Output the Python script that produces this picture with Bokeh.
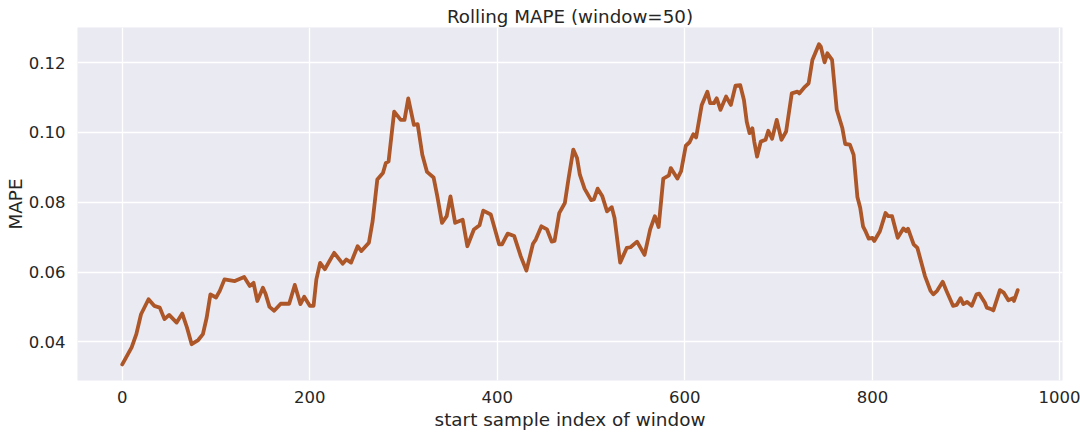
from bokeh.plotting import figure
from bokeh.models import Range1d, FixedTicker, NumeralTickFormatter, ColumnDataSource
from bokeh.embed import file_html
from bokeh.resources import INLINE

# start sample index of window
window_start = [
    0, 10, 15, 20, 28, 34, 40, 45, 50, 58, 64, 69, 74, 81, 86, 90, 94, 100, 104, 109,
    120, 130, 136, 140, 144, 150, 153, 157, 162, 169, 178, 184, 190, 194, 200, 204, 207, 211, 216, 226,
    235, 239, 244, 251, 255, 263, 267, 272, 278, 281, 284, 290, 297, 301, 305, 311, 315, 320, 325, 332,
    336, 341, 346, 350, 355, 363, 368, 375, 381, 385, 393, 402, 405, 411, 418, 425, 431, 438, 441, 447,
    453, 458, 461, 466, 472, 476, 481, 485, 488, 493, 500, 503, 507, 512, 517, 522, 525, 531, 538, 542,
    549, 557, 563, 568, 572, 577, 583, 585, 592, 596, 601, 605, 609, 612, 618, 624, 627, 631, 634, 638,
    644, 649, 654, 659, 663, 666, 669, 672, 674, 677, 681, 686, 689, 693, 698, 703, 708, 714, 720, 722,
    728, 732, 736, 739, 743, 745, 749, 752, 757, 762, 768, 771, 776, 780, 784, 787, 790, 793, 796, 800,
    802, 808, 814, 817, 821, 827, 833, 836, 838, 844, 848, 856, 862, 865, 869, 875, 879, 886, 890, 894,
    897, 901, 906, 911, 914, 920, 922, 927, 929, 936, 940, 945, 950, 951, 955,
]
# rolling MAPE values
rolling_mape = [
    0.0335, 0.0384, 0.0422, 0.0479, 0.0522, 0.0503, 0.0498, 0.0465, 0.0477, 0.0455,
    0.0481, 0.0441, 0.0393, 0.0405, 0.0422, 0.0469, 0.0536, 0.0527, 0.0546, 0.0579,
    0.0574, 0.0586, 0.0560, 0.0569, 0.0517, 0.0555, 0.0536, 0.0500, 0.0489, 0.0509,
    0.0509, 0.0563, 0.0508, 0.0529, 0.0503, 0.0503, 0.0579, 0.0626, 0.0608, 0.0655,
    0.0624, 0.0636, 0.0627, 0.0674, 0.0660, 0.0684, 0.0746, 0.0865, 0.0884, 0.0912,
    0.0917, 0.1060, 0.1036, 0.1036, 0.1098, 0.1022, 0.1024, 0.0936, 0.0887, 0.0871,
    0.0817, 0.0741, 0.0760, 0.0817, 0.0741, 0.0750, 0.0674, 0.0722, 0.0734, 0.0776,
    0.0765, 0.0679, 0.0679, 0.0710, 0.0703, 0.0645, 0.0604, 0.0681, 0.0693, 0.0731,
    0.0722, 0.0687, 0.0689, 0.0769, 0.0798, 0.0869, 0.0951, 0.0927, 0.0879, 0.0839,
    0.0806, 0.0808, 0.0839, 0.0817, 0.0774, 0.0786, 0.0755, 0.0627, 0.0669, 0.0671,
    0.0687, 0.0649, 0.0722, 0.0760, 0.0729, 0.0868, 0.0877, 0.0898, 0.0868, 0.0889,
    0.0962, 0.0972, 0.0995, 0.0986, 0.1079, 0.1117, 0.1084, 0.1084, 0.1098, 0.1065,
    0.1103, 0.1079, 0.1134, 0.1136, 0.1093, 0.1031, 0.0998, 0.1012, 0.0974, 0.0931,
    0.0974, 0.0979, 0.1005, 0.0982, 0.1036, 0.0979, 0.1003, 0.1112, 0.1117, 0.1112,
    0.1131, 0.1141, 0.1208, 0.1227, 0.1253, 0.1246, 0.1201, 0.1227, 0.1208, 0.1065,
    0.1012, 0.0967, 0.0965, 0.0936, 0.0815, 0.0784, 0.0731, 0.0715, 0.0696, 0.0698,
    0.0689, 0.0717, 0.0769, 0.0760, 0.0760, 0.0698, 0.0725, 0.0717, 0.0724, 0.0679,
    0.0669, 0.0589, 0.0546, 0.0536, 0.0546, 0.0572, 0.0546, 0.0503, 0.0506, 0.0525,
    0.0508, 0.0514, 0.0503, 0.0536, 0.0538, 0.0512, 0.0498, 0.0493, 0.0490, 0.0548,
    0.0541, 0.0519, 0.0525, 0.0517, 0.0548,
]
x_ticks = [0, 200, 400, 600, 800, 1000]
y_ticks = [0.04, 0.06, 0.08, 0.10, 0.12]

TEXT = "#262626"
FONT = "DejaVu Sans"

p = figure(
    width=1080, height=437,
    output_backend="svg", toolbar_location=None,
    x_range=Range1d(-47.75, 1002.75), y_range=Range1d(0.0289, 0.1301),
    min_border_left=77, min_border_right=18, min_border_top=27, min_border_bottom=57,
    title="Rolling MAPE (window=50)",
)
p.title.align = "center"
p.title.text_font = FONT
p.title.text_font_size = "18.3px"
p.title.text_font_style = "normal"
p.title.text_color = TEXT
p.title.offset = 0
p.title.standoff = 2

p.background_fill_color = "#EAEAF2"
p.border_fill_color = "white"
p.outline_line_color = None

for g in (p.xgrid, p.ygrid):
    g.grid_line_color = "white"
    g.grid_line_width = 1.3

p.xaxis.ticker = FixedTicker(ticks=x_ticks)
p.yaxis.ticker = FixedTicker(ticks=y_ticks)
p.yaxis.formatter = NumeralTickFormatter(format="0.00")
p.xgrid.ticker = FixedTicker(ticks=x_ticks)
p.ygrid.ticker = FixedTicker(ticks=y_ticks)

for ax in (p.xaxis, p.yaxis):
    ax.axis_line_color = None
    ax.major_tick_line_color = None
    ax.minor_tick_line_color = None
    ax.major_tick_out = 0
    ax.major_tick_in = 0
    ax.major_label_text_font = FONT
    ax.major_label_text_font_size = "16.5px"
    ax.major_label_text_color = TEXT
    ax.axis_label_text_font = FONT
    ax.axis_label_text_font_size = "18.4px"
    ax.axis_label_text_font_style = "normal"
    ax.axis_label_text_color = TEXT

p.xaxis.axis_label = "start sample index of window"
p.yaxis.axis_label = "MAPE"
p.xaxis.major_label_standoff = 10
p.yaxis.major_label_standoff = 12
p.xaxis.axis_label_standoff = 3
p.yaxis.axis_label_standoff = 0

src = ColumnDataSource(dict(x=window_start, y=rolling_mape))
p.line("x", "y", source=src, line_color="#AD5628", line_width=3.8,
       line_join="round", line_cap="round")

open("out.html", "w").write(file_html(p, INLINE))
